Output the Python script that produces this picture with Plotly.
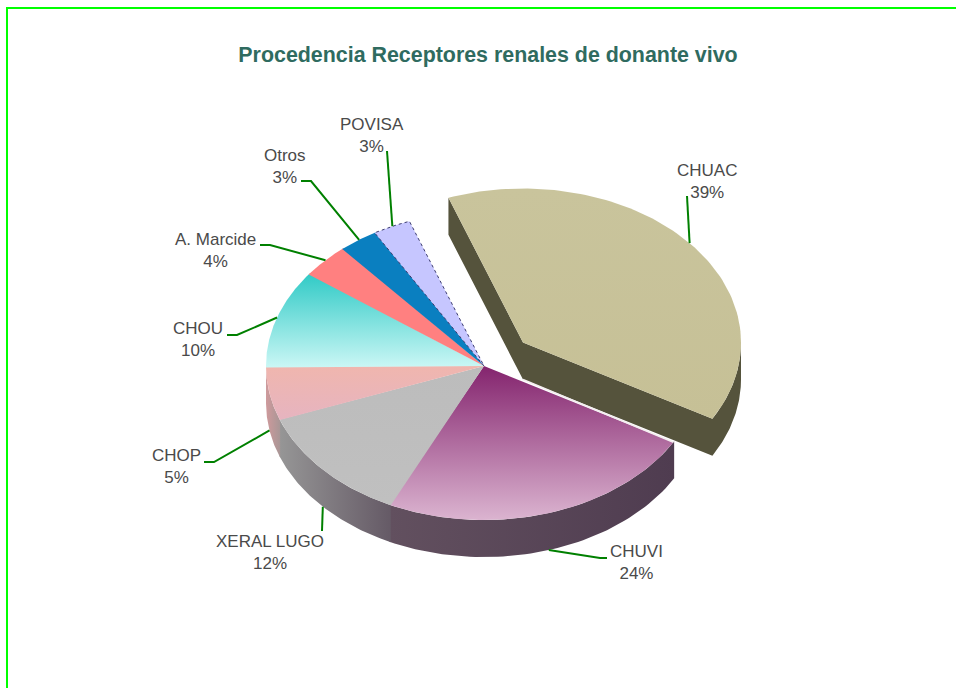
import numpy as np
import plotly.graph_objects as go

TITLE = "Procedencia Receptores renales de donante vivo"
categories = ["CHUAC", "CHUVI", "XERAL LUGO", "CHOP", "CHOU", "A. Marcide", "Otros", "POVISA"]
values = [38.8, 23.9, 12.2, 5.6, 10.3, 3.6, 2.9, 2.7]
percent_labels = ["39%", "24%", "12%", "5%", "10%", "4%", "3%", "3%"]

# top-face colour ramps (top of slice -> bottom of slice)
top_ramps = [("#c9c49c", "#c6c096"), ("#84246e", "#dbb4d0"), ("#bcbcbc", "#c0c0c0"), ("#f0b6ae", "#e6b4c0"),
             ("#30cac6", "#cbf7f5"), ("#ff8080", "#ff8080"), ("#0a7fc0", "#0a7fc0"), ("#c6c6ff", "#c6c6ff")]
# side-face colour ramps (left -> right)
side_ramps = [("#55533c", "#55533c"), ("#62505f", "#4f3c50"), ("#969696", "#655a66"), ("#cf9a9c", "#a89696"),
              ("#ffffff", "#ffffff"), ("#ffffff", "#ffffff"), ("#ffffff", "#ffffff"), ("#ffffff", "#ffffff")]

START = -20.0
CX, CY, RX, RY, DEPTH = 484.0, 366.0, 218.0, 154.0, 37.0
PULL_X, PULL_Y = 39.0, -23.5   # explosion of first slice
SEAM = 0.4                     # degrees of overlap that hides anti-aliased seams
LEADER_ON_SIDE = [False, True, True, True, False, False, False, False]
# label centres and leader elbows, canvas pixels
label_xy = [(707, 181), (636, 562), (270, 552), (176, 466), (197.5, 339), (215.5, 250), (285, 166), (371.5, 135)]
leader_start = [(687, 196), (607, 558), (322, 531), (204, 462), (227, 335), (260, 245), (301, 181), (387, 151)]
leader_elbow = [None, (600, 558), None, (214, 462), (237, 335), (270, 245), (311, 181), None]

edges = START + np.concatenate([[0], np.cumsum(values)]) * 360.0 / sum(values)


def ell(a, cx, cy):
    r = np.radians(a)
    return cx + RX * np.sin(r), cy - RY * np.cos(r)


def ramp(pair, kind):
    # y axis is reversed, so the vertical gradient's 0 end sits at the bottom of the picture
    c0, c1 = (pair[1], pair[0]) if kind == "vertical" else pair
    return dict(type=kind, colorscale=[[0, c0], [1, c1]])


fig = go.Figure()


def poly(xs, ys, grad, line=None):
    fig.add_trace(go.Scatter(
        x=xs, y=ys, mode="lines", fill="toself", fillgradient=grad,
        line=line or dict(width=0, color="rgba(0,0,0,0)"), hoverinfo="skip", showlegend=False))


# sides
for i in range(len(values)):
    a0, a1 = edges[i], edges[i + 1]
    cx, cy = (CX + PULL_X, CY + PULL_Y) if i == 0 else (CX, CY)
    lo, hi = max(a0 - (SEAM if i else 0), 90), min(a1, 270)
    if lo < hi:
        x, y = ell(np.linspace(lo, hi, 60), cx, cy)
        if i == 0:
            sx, sy = ell(a0, cx, cy)
            poly(np.r_[sx, sx, cx, x[::-1], x, cx, sx],
                 np.r_[sy, sy + DEPTH, cy + DEPTH, y[::-1] + DEPTH, y, cy, sy],
                 ramp(side_ramps[i], "horizontal"))
        else:
            poly(np.r_[x, x[::-1], x[0]], np.r_[y, y[::-1] + DEPTH, y[0]], ramp(side_ramps[i], "horizontal"))

# tops
for i in range(len(values)):
    a0, a1 = edges[i], edges[i + 1]
    if i >= 2:
        a0 -= SEAM
    cx, cy = (CX + PULL_X, CY + PULL_Y) if i == 0 else (CX, CY)
    x, y = ell(np.linspace(a0, a1, 100), cx, cy)
    line = dict(width=1, color="#3c3c70", dash="dot") if categories[i] == "POVISA" else None
    poly(np.r_[cx, x, cx], np.r_[cy, y, cy], ramp(top_ramps[i], "vertical"), line)

# pale seam between CHUAC and CHUVI
sx, sy = ell(edges[1], CX, CY)
fig.add_trace(go.Scatter(x=[CX + PULL_X, sx], y=[CY + PULL_Y + DEPTH, sy], mode="lines",
                         line=dict(width=1.5, color="#f4eef0"), hoverinfo="skip", showlegend=False))

# leaders and labels
annotations = []
for i in range(len(values)):
    mid = (edges[i] + edges[i + 1]) / 2
    cx, cy = (CX + PULL_X, CY + PULL_Y) if i == 0 else (CX, CY)
    ex, ey = ell(mid, cx, cy)
    if LEADER_ON_SIDE[i]:
        ey += DEPTH
    pts = [leader_start[i]] + ([leader_elbow[i]] if leader_elbow[i] else []) + [(ex, ey)]
    fig.add_trace(go.Scatter(x=[p[0] for p in pts], y=[p[1] for p in pts], mode="lines",
                             line=dict(width=2, color="#008000"), hoverinfo="skip", showlegend=False))
    annotations.append(dict(x=label_xy[i][0], y=label_xy[i][1], xref="x", yref="y",
                            text=f"{categories[i]}<br>{percent_labels[i]}", showarrow=False,
                            xanchor="center", yanchor="middle", align="center",
                            font=dict(family="Liberation Sans", size=17, color="#4a4a4a")))

fig.update_layout(
    width=956, height=688, margin=dict(l=0, r=0, t=0, b=0), autosize=False,
    paper_bgcolor="white", plot_bgcolor="white", showlegend=False,
    xaxis=dict(range=[0, 956], visible=False, fixedrange=True),
    yaxis=dict(range=[688, 0], visible=False, fixedrange=True),
    title=dict(text=f"<b>{TITLE}</b>", x=488 / 956, y=1 - 55 / 688, xanchor="center", yanchor="middle",
               font=dict(family="Liberation Sans", size=21.4, color="#2f6b60")),
    annotations=annotations,
    shapes=[dict(type="rect", xref="x", yref="y", x0=7, y0=8, x1=980, y1=710,
                 line=dict(color="#00ff00", width=2), layer="below")],
)
fig.write_html("out.html", config=dict(displayModeBar=False),
               post_script="document.body.style.margin='0';document.documentElement.style.overflow='hidden';")
